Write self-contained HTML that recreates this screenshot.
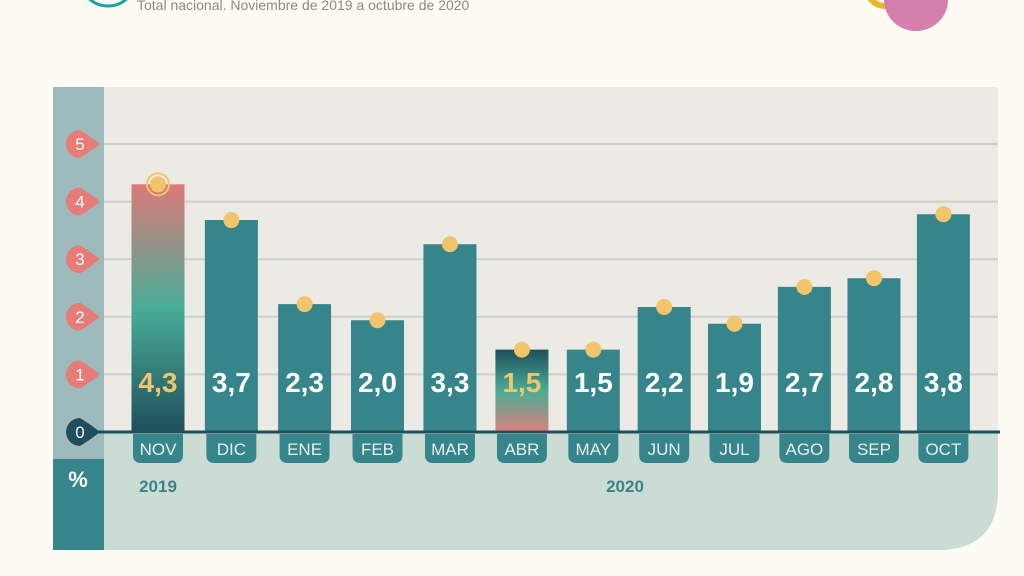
<!DOCTYPE html>
<html><head><meta charset="utf-8"><style>
html,body{margin:0;padding:0;background:#fefbf3;width:1024px;height:576px;overflow:hidden;font-family:"Liberation Sans",sans-serif}
</style></head><body>
<svg width="1024" height="576" viewBox="0 0 1024 576">
<defs>
<linearGradient id="gNov" x1="0" y1="0" x2="0" y2="1"><stop offset="0" stop-color="#dc7a78"/><stop offset="0.5" stop-color="#48ad97"/><stop offset="1" stop-color="#1f4f5c"/></linearGradient>
<linearGradient id="gAbr" x1="0" y1="0" x2="0" y2="1"><stop offset="0" stop-color="#1f4f5c"/><stop offset="0.5" stop-color="#48ad97"/><stop offset="1" stop-color="#e07f7c"/></linearGradient>
</defs>
<g>
<circle cx="108" cy="-22" r="28" fill="none" stroke="#1aa59a" stroke-width="3"/>
<text x="137" y="10" font-size="14" fill="#8a8a8a">Total nacional. Noviembre de 2019 a octubre de 2020</text>
<circle cx="885" cy="-12" r="18" fill="none" stroke="#f0b62a" stroke-width="6"/>
<ellipse cx="916" cy="0" rx="32" ry="31" fill="#d57fac"/>
</g>
<rect x="104" y="87" width="894" height="345" fill="#ebeae4"/>
<path d="M104 432 H998 V490 Q998 550 938 550 H104 Z" fill="#cbdcd5"/>
<rect x="53" y="87" width="51" height="372" fill="#9dbbbd"/>
<rect x="53" y="459" width="51" height="91" fill="#35858a"/>
<text x="78" y="487" font-size="22" font-weight="bold" fill="#fff" text-anchor="middle">%</text>
<g id="grid"></g>
<g id="bars"></g>
<line x1="90" y1="432" x2="1000" y2="432" stroke="#1f4f5c" stroke-width="3"/>
<g id="ticks"></g>
<g id="months"></g>
<text x="158" y="492" font-size="17" font-weight="bold" fill="#3a8488" text-anchor="middle">2019</text>
<text x="625" y="492" font-size="17" font-weight="bold" fill="#3a8488" text-anchor="middle">2020</text>
</svg>
<script>
const categories=["NOV","DIC","ENE","FEB","MAR","ABR","MAY","JUN","JUL","AGO","SEP","OCT"];
const values=[4.3,3.68,2.22,1.94,3.26,1.43,1.43,2.17,1.88,2.52,2.67,3.78];
const labels=["4,3","3,7","2,3","2,0","3,3","1,5","1,5","2,2","1,9","2,7","2,8","3,8"];
const yTicks=[0,1,2,3,4,5];
const NS="http://www.w3.org/2000/svg";
const y=v=>432-v*57.6;
const x=i=>158+i*71.4+Math.sin(Math.PI*i/11)*7;
function mk(t,a,p){const e=document.createElementNS(NS,t);for(const k in a)e.setAttribute(k,a[k]);p.appendChild(e);return e;}
const grid=document.getElementById('grid'),bars=document.getElementById('bars'),ticks=document.getElementById('ticks'),months=document.getElementById('months');
yTicks.forEach(t=>{
 if(t>0){const l=mk('line',{x1:104,x2:998,y1:y(t),y2:y(t),stroke:'#cfcfcc','stroke-width':2},grid);
 
 }
 const c=t===0?'#1f4f5c':'#e57c78';
 const yy=y(t);
 const m=mk('path',{d:`M${66} ${yy} a14 14 0 0 1 14 -14 q10 6 20 14 q-10 8 -20 14 a14 14 0 0 1 -14 -14z`,fill:c},ticks);
 
 
 const tx=mk('text',{x:80,y:yy+6,'font-size':17,fill:'#fff','text-anchor':'middle'},ticks);
 tx.textContent=t;
 
 
});
values.forEach((v,i)=>{
 const cx=x(i);
 const fill=i===0?'url(#gNov)':(i===5?'url(#gAbr)':'#35858a');
 const r=mk('rect',{x:cx-26.5,y:y(v),width:53,height:432-y(v),fill:fill},bars);
 
 
 if(i===0){const ring=mk('circle',{cx:cx,cy:y(v),r:11,fill:'none',stroke:'#f2c46b','stroke-width':2},bars);
 
 }
 const d=mk('circle',{cx:cx,cy:y(v),r:8,fill:'#f2c46b'},bars);
 
 
 const t=mk('text',{x:cx,y:392,'font-size':28,'font-weight':'bold',fill:(i===0||i===5)?'#f2c46b':'#fff','text-anchor':'middle'},bars);
 t.textContent=labels[i];
 
 
 const p=mk('path',{d:`M${cx-25} 434 H${cx+25} V455 Q${cx+25} 463 ${cx+17} 463 H${cx-17} Q${cx-25} 463 ${cx-25} 455 Z`,fill:'#35858a'},months);
 
 
 const mt=mk('text',{x:cx,y:455,'font-size':17,fill:'#e6f0ee','text-anchor':'middle'},months);
 mt.textContent=categories[i];
 
 
});
</script>
</body></html>
